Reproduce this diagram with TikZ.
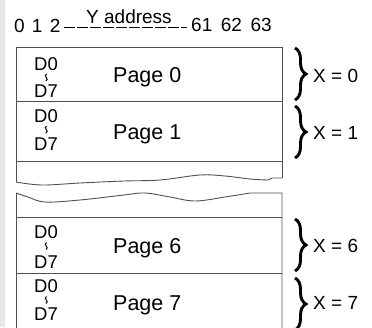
\documentclass[tikz,border=0pt]{standalone}
\usepackage{fontspec}
\setmainfont{Liberation Sans}
\usetikzlibrary{decorations.pathreplacing}
\definecolor{strip}{HTML}{E7E8EB}
\definecolor{boxline}{HTML}{505050}
\tikzset{
  txt/.style={inner sep=0pt, anchor=base west, font=\fontsize{19}{22}\selectfont},
  dtxt/.style={inner sep=0pt, anchor=base, font=\fontsize{18.5}{21}\selectfont},
  ptxt/.style={inner sep=0pt, anchor=base west, font=\fontsize{21.5}{24}\selectfont},
  wrline/.style={line width=1pt, black},
  frame/.style={draw=boxline, line width=0.9pt},
  xbrace/.style={decorate, decoration={brace, amplitude=11pt}, line width=2.9pt, black},
}
\newcommand{\wrmark}[1]{\draw[wrline] (46.5,#1-3.5) .. controls (42.5,#1-1.5) and (50,#1+1.5) .. (46,#1+3.5);}
\begin{document}
\begin{tikzpicture}[x=1pt,y=-1pt]
\useasboundingbox (0,0) rectangle (372,327);
\fill[strip] (0,0) rectangle (5,327);
% top axis
\node[txt] (n012) at (14,32) {0\hspace{0.38em}1\hspace{0.38em}2};
\node[txt] (ya) at (86,23) {Y address};
\node[txt] (n61) at (191,31) {61\hspace{0.45em}62\hspace{0.45em}63};
\coordinate (da) at (64,27);
\coordinate (db) at (187,27);
\draw[line width=1pt, dash pattern=on 10.5pt off 2.5pt] (da) -- (db);
% upper frame
\draw[frame] (16,182) -- (16,47) -- (282,47) -- (282,178);
\draw[frame] (16,101) -- (282,101);
\draw[frame] (16,161) -- (282,161);
\draw[frame] plot[smooth, tension=0.6] coordinates {(16,182) (42,185) (80,183) (124,181) (160,180) (200,175) (225,176) (250,179) (268,180)} -- (272,178) -- (282,178);
% lower frame
\draw[frame] (16,340) -- (16,193);
\draw[frame] plot[smooth, tension=0.6] coordinates {(16,193) (28,197) (45,202) (80,200) (124,195) (145,193) (170,197) (195,201) (225,197) (250,193)} -- (282,193) -- (282,340);
\draw[frame] (16,217) -- (282,217);
\draw[frame] (16,273) -- (282,273);
% page 0
\node[dtxt] (a0) at (46,70) {D0};
\wrmark{77.5}
\node[dtxt] (b0) at (46,97) {D7};
\node[ptxt] (p0) at (113,82) {Page 0};
% page 1
\node[dtxt] (a1) at (46,122) {D0};
\wrmark{129.5}
\node[dtxt] (b1) at (46,150) {D7};
\node[ptxt] (p1) at (113,139) {Page 1};
% page 6
\node[dtxt] (a6) at (46,238) {D0};
\wrmark{246}
\node[dtxt] (b6) at (46,268) {D7};
\node[ptxt] (p6) at (113,253) {Page 6};
% page 7
\node[dtxt] (a7) at (46,292) {D0};
\wrmark{300}
\node[dtxt] (b7) at (46,320) {D7};
\node[ptxt] (p7) at (113,310) {Page 7};
% braces
\draw[xbrace] (295,48) -- (295,100);
\draw[xbrace] (295,106) -- (295,158);
\draw[xbrace] (295,219) -- (295,271);
\draw[xbrace] (295,278) -- (295,330);
\node[txt] (x0) at (313,82) {X = 0};
\node[txt] (x1) at (313,139) {X = 1};
\node[txt] (x6) at (313,252) {X = 6};
\node[txt] (x7) at (313,309) {X = 7};
\end{tikzpicture}
\end{document}
